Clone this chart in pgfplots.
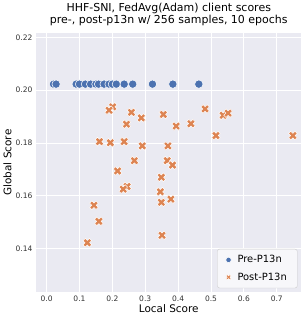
\documentclass[border=0pt]{standalone}
\usepackage{pgfplots}
\pgfplotsset{compat=1.18}
\usepackage{fontspec}
\setmainfont{DejaVu Sans}
\definecolor{sbbg}{HTML}{EAEAF2}
\definecolor{sbblue}{HTML}{4C72B0}
\definecolor{sborange}{HTML}{DD8452}
\pgfdeclareplotmark{bigx}{%
  \pgfmathsetmacro{\a}{0.36*\pgfplotmarksize}%
  \pgfmathsetmacro{\r}{1.0*\pgfplotmarksize}%
  \pgfpathmoveto{\pgfpoint{\a pt}{\r pt}}%
  \pgfpathlineto{\pgfpoint{\a pt}{\a pt}}%
  \pgfpathlineto{\pgfpoint{\r pt}{\a pt}}%
  \pgfpathlineto{\pgfpoint{\r pt}{-\a pt}}%
  \pgfpathlineto{\pgfpoint{\a pt}{-\a pt}}%
  \pgfpathlineto{\pgfpoint{\a pt}{-\r pt}}%
  \pgfpathlineto{\pgfpoint{-\a pt}{-\r pt}}%
  \pgfpathlineto{\pgfpoint{-\a pt}{-\a pt}}%
  \pgfpathlineto{\pgfpoint{-\r pt}{-\a pt}}%
  \pgfpathlineto{\pgfpoint{-\r pt}{\a pt}}%
  \pgfpathlineto{\pgfpoint{-\a pt}{\a pt}}%
  \pgfpathlineto{\pgfpoint{-\a pt}{\r pt}}%
  \pgfpathclose
  \pgfusepathqfillstroke}
\begin{document}
\begin{tikzpicture}
\begin{axis}[
  scale only axis,
  width=254pt, height=248pt,
  xmin=-0.032, xmax=0.775,
  ymin=0.1235, ymax=0.2217,
  axis background/.style={fill=sbbg},
  axis line style={draw=none},
  grid=major,
  major grid style={white, line width=0.8pt},
  tick style={draw=none},
  xtick={0,0.1,...,0.7},
  ytick={0.14,0.16,0.18,0.20,0.22},
  xticklabel style={/pgf/number format/.cd, fixed, fixed zerofill, precision=1},
  yticklabel style={/pgf/number format/.cd, fixed, fixed zerofill, precision=2},
  /pgf/number format/assume math mode=true,
  ticklabel style={font=\fontsize{7.2}{8}\selectfont, text=black!80},
  xlabel={Local Score}, ylabel={Global Score},
  label style={font=\fontsize{10}{12}\selectfont},
  xlabel style={yshift=4pt},
  ylabel style={yshift=-3pt},
  title={HHF-SNI, FedAvg(Adam) client scores\\pre-, post-p13n w/ 256 samples, 10 epochs},
  title style={font=\fontsize{10.5}{11.5}\selectfont, align=center, yshift=-3pt},
  legend pos=south east,
  legend style={font=\fontsize{9.5}{11}\selectfont, fill=white!60!sbbg, draw=black!20, rounded corners=2pt, row sep=4pt, inner xsep=8pt, inner ysep=4pt, at={(0.985,0.015)}},
  legend image post style={mark size=2.6pt},
  legend cell align=left,
]
\addplot[only marks, mark=*, mark size=4pt, mark options={fill=sbblue, draw=white, line width=0.5pt}] coordinates {
(0.021,0.2023) (0.029,0.2023) (0.090,0.2023) (0.100,0.2023) (0.118,0.2023)
(0.134,0.2023) (0.150,0.2023) (0.158,0.2023) (0.175,0.2023) (0.190,0.2023)
(0.200,0.2023) (0.212,0.2023) (0.236,0.2023) (0.262,0.2023) (0.322,0.2023)
(0.384,0.2023) (0.463,0.2023)
};
\addlegendentry{\hspace{4pt}Pre-P13n}
\addplot[only marks, mark=bigx, mark size=4.3pt, mark options={fill=sborange, draw=white, line width=0.5pt, rotate=45}] coordinates {
(0.201,0.1937) (0.190,0.1924) (0.243,0.1871) (0.161,0.1805) (0.194,0.1801)
(0.236,0.1805) (0.216,0.1694) (0.245,0.1635) (0.233,0.1625) (0.258,0.1916)
(0.288,0.1895) (0.355,0.1908) (0.394,0.1864) (0.439,0.1873) (0.482,0.1929)
(0.515,0.1828) (0.291,0.1789) (0.369,0.1789) (0.267,0.1733) (0.367,0.1733)
(0.383,0.1716) (0.349,0.1670) (0.346,0.1615) (0.537,0.1905) (0.552,0.1913)
(0.749,0.1828) (0.144,0.1564) (0.159,0.1503) (0.124,0.1422) (0.349,0.1575)
(0.378,0.1587) (0.351,0.1450)
};
\addlegendentry{\hspace{4pt}Post-P13n}
\end{axis}
\end{tikzpicture}
\end{document}
